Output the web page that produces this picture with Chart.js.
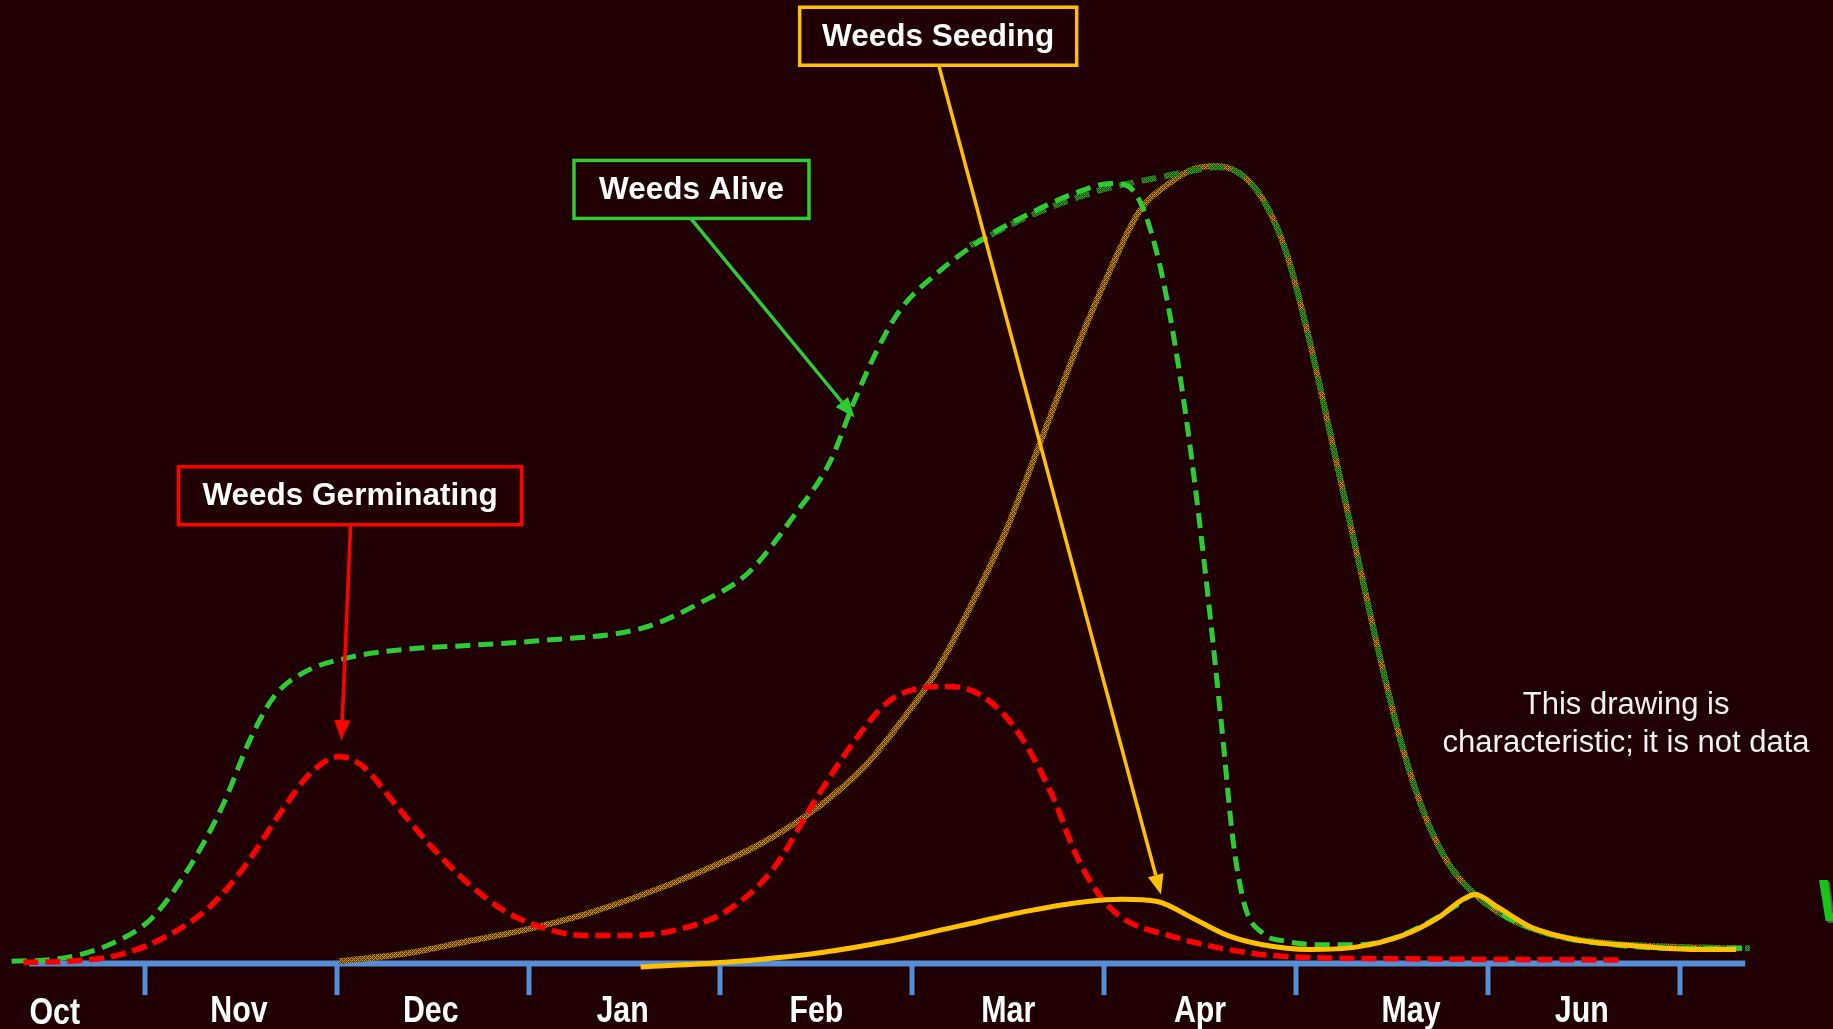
<!DOCTYPE html>
<html>
<head>
<meta charset="utf-8">
<title>Weeds through the season</title>
<script src="https://cdn.jsdelivr.net/npm/chart.js@4.4.1/dist/chart.umd.min.js"></script>
<style>
  html, body { margin: 0; padding: 0; background: #200002; overflow: hidden; }
  #wrap { width: 1833px; height: 1029px; position: relative; }
</style>
</head>
<body>
<div id="wrap"><canvas id="weedChart"></canvas></div>
<script>
// x = months counted from 1 Oct (1 = 1 Nov ... 9 = 1 Jul), y = relative level
const monthTicks = [1, 2, 3, 4, 5, 6, 7, 8, 9];
const monthLabels = ['Oct', 'Nov', 'Dec', 'Jan', 'Feb', 'Mar', 'Apr', 'May', 'Jun'];
const monthLabelPos = [0.53, 1.49, 2.49, 3.49, 4.50, 5.50, 6.50, 7.60, 8.49];

const aliveX = [0.305, 0.549, 0.854, 1.037, 1.219, 1.402, 1.555, 1.676, 1.829, 2.073, 2.377, 2.682, 3.048,
  3.596, 3.901, 4.144, 4.388, 4.571, 4.693, 4.815, 4.937, 5.119, 5.363, 5.607, 5.851, 6.034, 6.107, 6.186,
  6.265, 6.338, 6.430, 6.521, 6.612, 6.673, 6.734, 6.826, 6.948, 7.130, 7.313, 7.496, 7.679, 7.831, 7.935,
  8.105, 8.349, 8.654, 8.958, 9.367];
const aliveY = [2, 4, 19, 39, 79, 134, 194, 229, 249, 262, 269, 272, 276,
  287, 309, 334, 384, 429, 479, 524, 559, 589, 619, 641, 659, 667, 666, 652,
  614, 559, 464, 344, 204, 104, 49, 26, 19, 16, 16, 21, 34, 49, 59,
  39, 24, 16, 13, 13];

const aliveLateX = [5.302, 5.607, 5.973, 6.277, 6.460, 6.582, 6.704, 6.826, 6.948, 7.069, 7.191, 7.313,
  7.435, 7.557, 7.679, 7.801, 7.935, 8.105, 8.349, 8.654, 9.019, 9.367];
const aliveLateY = [614, 639, 661, 672, 678, 681, 676, 654, 609, 534, 444, 354,
  264, 184, 124, 84, 59, 39, 24, 17, 14, 13];

const matureX = [2.012, 2.377, 2.682, 2.987, 3.291, 3.596, 3.901, 4.205, 4.510, 4.754, 4.937, 5.119, 5.302,
  5.485, 5.668, 5.851, 6.034, 6.186, 6.338, 6.460, 6.582, 6.704, 6.826, 6.948, 7.069, 7.191, 7.313, 7.435,
  7.557, 7.679, 7.801, 7.935, 8.105, 8.349, 8.654, 9.019, 9.324];
const matureY = [2, 9, 19, 29, 42, 59, 79, 102, 134, 169, 206, 248, 305,
  369, 446, 524, 594, 644, 667, 679, 682, 676, 654, 609, 534, 444, 354, 264,
  184, 124, 84, 59, 39, 24, 17, 14, 13];

const germX = [0.366, 0.610, 0.854, 1.098, 1.341, 1.524, 1.707, 1.859, 2.012, 2.133, 2.316, 2.499, 2.682,
  2.865, 3.048, 3.291, 3.535, 3.779, 4.023, 4.266, 4.510, 4.693, 4.876, 5.058, 5.180, 5.363, 5.546, 5.729,
  5.851, 5.973, 6.094, 6.338, 6.643, 6.948, 7.557, 8.684];
const germY = [1, 2, 7, 22, 49, 84, 129, 162, 177, 169, 134, 99, 69,
  46, 32, 24, 24, 29, 44, 79, 144, 189, 224, 236, 237, 229, 199, 144,
  94, 59, 39, 24, 12, 6, 4, 3];

const seedX = [3.584, 4.023, 4.510, 4.876, 5.241, 5.607, 5.912, 6.094, 6.277, 6.460, 6.643, 6.826, 7.069,
  7.313, 7.557, 7.740, 7.862, 7.935, 8.044, 8.227, 8.471, 8.776, 9.080, 9.294];
const seedY = [-3, 1, 9, 19, 32, 45, 53, 55, 53, 39, 24, 16, 12,
  14, 24, 39, 54, 59, 49, 31, 20, 15, 12, 12];

const axisStart = 0.397;
const axisEnd = 9.342;

const toPoints = (xs, ys) => xs.map((v, i) => ({ x: v, y: ys[i] }));

// hatched texture for the un-labelled orange curve
function hatch(base, dot) {
  const c = document.createElement('canvas');
  c.width = 4; c.height = 4;
  const p = c.getContext('2d');
  p.fillStyle = base; p.fillRect(0, 0, 4, 4);
  p.fillStyle = dot;
  [[0, 0], [2, 2], [1, 3], [3, 1], [2, 0], [0, 2]].forEach(([a, b]) => p.fillRect(a, b, 1, 1));
  return p.createPattern(c, 'repeat');
}

const callouts = [
  { text: 'Weeds Germinating', color: '#ff0000', cx: 2.069, cy: 400, w: 343, from: [2.072, 375], to: [2.024, 191] },
  { text: 'Weeds Alive', color: '#2ecc32', cx: 3.849, cy: 662, w: 235, from: [3.846, 637], to: [4.699, 467] },
  { text: 'Weeds Seeding', color: '#ffc000', cx: 5.135, cy: 793, w: 277, from: [5.138, 768], to: [6.296, 59] }
];

function arrow(ctx, x1, y1, x2, y2, color) {
  const ang = Math.atan2(y2 - y1, x2 - x1);
  const head = 20, half = 8;
  const bx = x2 - head * Math.cos(ang), by = y2 - head * Math.sin(ang);
  ctx.strokeStyle = color;
  ctx.lineWidth = 3.5;
  ctx.beginPath(); ctx.moveTo(x1, y1); ctx.lineTo(bx, by); ctx.stroke();
  ctx.fillStyle = color;
  ctx.beginPath();
  ctx.moveTo(x2, y2);
  ctx.lineTo(bx + half * Math.sin(ang), by - half * Math.cos(ang));
  ctx.lineTo(bx - half * Math.sin(ang), by + half * Math.cos(ang));
  ctx.closePath();
  ctx.fill();
}

const seasonDecor = {
  id: 'seasonDecor',
  beforeDatasetsDraw(chart) {
    const { ctx, scales: { x, y } } = chart;
    ctx.save();
    ctx.strokeStyle = '#558ed5';
    ctx.lineWidth = 6;
    ctx.beginPath();
    ctx.moveTo(x.getPixelForValue(axisStart), y.getPixelForValue(0));
    ctx.lineTo(x.getPixelForValue(axisEnd), y.getPixelForValue(0));
    ctx.stroke();
    ctx.lineWidth = 5;
    monthTicks.forEach(m => {
      const px = Math.round(x.getPixelForValue(m));
      ctx.beginPath();
      ctx.moveTo(px, y.getPixelForValue(0));
      ctx.lineTo(px, y.getPixelForValue(-27));
      ctx.stroke();
    });
    ctx.fillStyle = '#ffffff';
    ctx.font = 'bold 37px "Liberation Sans", Arial, sans-serif';
    ctx.textAlign = 'center';
    ctx.textBaseline = 'alphabetic';
    monthLabels.forEach((t, i) => {
      ctx.save();
      ctx.translate(x.getPixelForValue(monthLabelPos[i]), y.getPixelForValue(i === 0 ? -52 : -50));
      ctx.scale(0.82, 1);
      ctx.fillText(t, 0, 0);
      ctx.restore();
    });
    ctx.restore();
  },
  afterDatasetsDraw(chart) {
    const { ctx, scales: { x, y } } = chart;
    ctx.save();
    callouts.forEach(c => {
      arrow(ctx, x.getPixelForValue(c.from[0]), y.getPixelForValue(c.from[1]),
        x.getPixelForValue(c.to[0]), y.getPixelForValue(c.to[1]), c.color);
      const cx = x.getPixelForValue(c.cx), cy = y.getPixelForValue(c.cy);
      ctx.fillStyle = '#200002';
      ctx.fillRect(cx - c.w / 2, cy - 29, c.w, 58);
      ctx.strokeStyle = c.color;
      ctx.lineWidth = 3.5;
      ctx.strokeRect(cx - c.w / 2, cy - 29, c.w, 58);
      ctx.fillStyle = '#ffffff';
      ctx.font = 'bold 31.5px "Liberation Sans", Arial, sans-serif';
      ctx.textAlign = 'center';
      ctx.textBaseline = 'middle';
      ctx.fillText(c.text, cx, cy + 1);
    });

    ctx.fillStyle = '#f2f2f2';
    ctx.font = '31px "Liberation Sans", Arial, sans-serif';
    ctx.textAlign = 'center';
    ctx.textBaseline = 'middle';
    ctx.fillText('This drawing is', x.getPixelForValue(8.721), y.getPixelForValue(221));
    ctx.fillText('characteristic; it is not data', x.getPixelForValue(8.721), y.getPixelForValue(188));

    // cut-off green letter at the right edge
    ctx.font = 'italic bold 60px "Liberation Sans", Arial, sans-serif';
    ctx.textAlign = 'left';
    ctx.textBaseline = 'alphabetic';
    ctx.shadowColor = '#555555';
    ctx.shadowOffsetX = 2;
    ctx.shadowOffsetY = 2;
    ctx.fillStyle = '#19c419';
    ctx.fillText('V', x.getPixelForValue(9.70), y.getPixelForValue(36));
    ctx.restore();
  }
};

const ctx = document.getElementById('weedChart').getContext('2d');
const lineBase = { pointRadius: 0, fill: false, cubicInterpolationMode: 'monotone', borderCapStyle: 'butt', clip: false };

new Chart(ctx, {
  type: 'line',
  data: {
    datasets: [
      Object.assign({}, lineBase, {
        label: 'Weeds Seeding', data: toPoints(seedX, seedY),
        borderColor: '#ffc000', borderWidth: 5, order: 1
      }),
      Object.assign({}, lineBase, {
        label: 'Weeds Germinating', data: toPoints(germX, germY),
        borderColor: '#ff0000', borderWidth: 5.5, borderDash: [15, 7], order: 2
      }),
      Object.assign({}, lineBase, {
        label: 'Weeds Alive', data: toPoints(aliveX, aliveY),
        borderColor: '#2ecc32', borderWidth: 5, borderDash: [15, 8], order: 3
      }),
      Object.assign({}, lineBase, {
        label: 'Weeds Alive (late)', data: toPoints(aliveLateX, aliveLateY),
        borderColor: hatch('#1f5a14', '#3aa52a'), borderWidth: 6, borderDash: [15, 8], order: 4
      }),
      Object.assign({}, lineBase, {
        label: 'Weeds Mature', data: toPoints(matureX, matureY),
        borderColor: hatch('#5e3b00', '#d99c00'), borderWidth: 6, order: 5
      })
    ]
  },
  options: {
    responsive: true,
    maintainAspectRatio: false,
    animation: false,
    layout: { padding: 0 },
    scales: {
      x: { type: 'linear', min: 0.2444, max: 9.7995, display: false },
      y: { type: 'linear', min: -56, max: 824, display: false }
    },
    plugins: {
      legend: { display: false },
      tooltip: { enabled: false }
    }
  },
  plugins: [seasonDecor]
});
</script>
</body>
</html>
